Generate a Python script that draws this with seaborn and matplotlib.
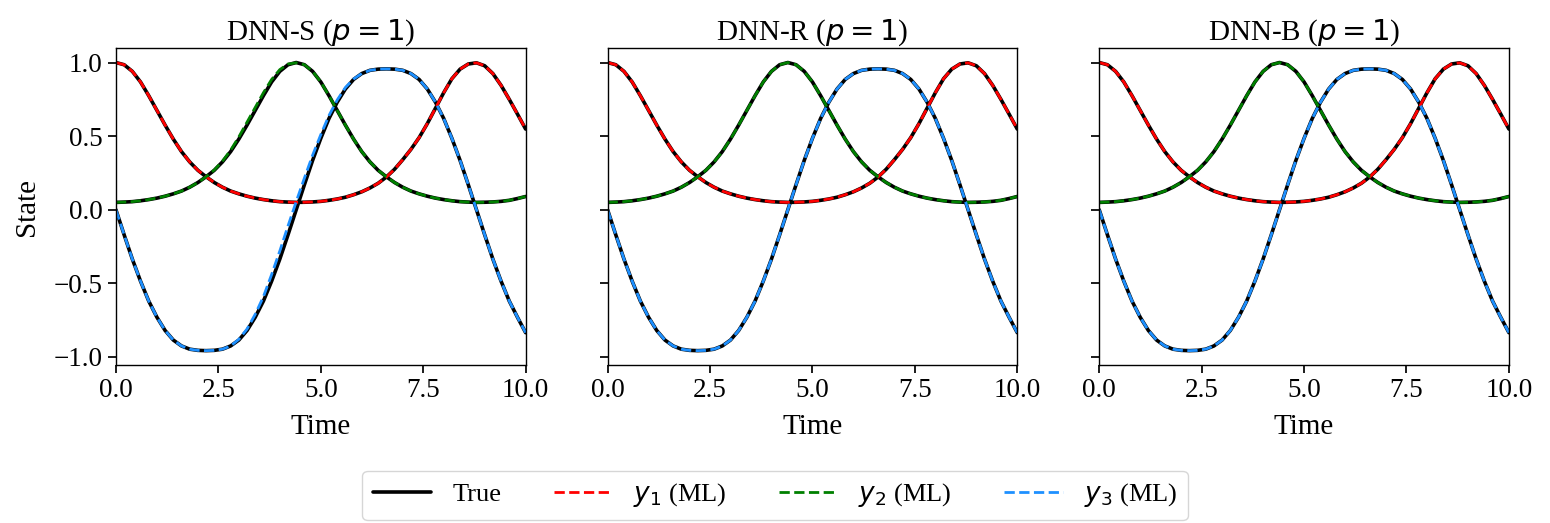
import numpy as np
import pandas as pd
import matplotlib
matplotlib.use('Agg')
import matplotlib.pyplot as plt
import seaborn as sns

# time grid (0.2 steps)
time = [0.0, 0.2, 0.4, 0.6, 0.8, 1.0, 1.2, 1.4, 1.6, 1.8,
        2.0, 2.2, 2.4, 2.6, 2.8, 3.0, 3.2, 3.4, 3.6, 3.8,
        4.0, 4.2, 4.4, 4.6, 4.8, 5.0, 5.2, 5.4, 5.6, 5.8,
        6.0, 6.2, 6.4, 6.6, 6.8, 7.0, 7.2, 7.4, 7.6, 7.8,
        8.0, 8.2, 8.4, 8.6, 8.8, 9.0, 9.2, 9.4, 9.6, 9.8, 10.0]

# reference solution
y1_true = [1.0, 0.985, 0.94, 0.868, 0.775, 0.675, 0.575, 0.48, 0.395, 0.325,
           0.268, 0.224, 0.185, 0.153, 0.127, 0.108, 0.092, 0.079, 0.069, 0.061,
           0.055, 0.052, 0.05, 0.051, 0.053, 0.057, 0.064, 0.073, 0.085, 0.102,
           0.122, 0.148, 0.18, 0.222, 0.275, 0.34, 0.41, 0.49, 0.585, 0.69,
           0.795, 0.89, 0.955, 0.99, 0.998, 0.978, 0.925, 0.845, 0.75, 0.65, 0.548]
y2_true = [0.05, 0.052, 0.055, 0.061, 0.069, 0.079, 0.092, 0.108, 0.127, 0.153,
           0.185, 0.224, 0.268, 0.325, 0.395, 0.48, 0.575, 0.675, 0.775, 0.868,
           0.94, 0.985, 1.0, 0.985, 0.94, 0.868, 0.775, 0.675, 0.575, 0.48,
           0.395, 0.325, 0.268, 0.224, 0.185, 0.153, 0.127, 0.108, 0.092, 0.079,
           0.069, 0.061, 0.055, 0.052, 0.05, 0.051, 0.053, 0.057, 0.064, 0.076, 0.09]
y3_true = [0.0, -0.17, -0.335, -0.485, -0.62, -0.73, -0.82, -0.885, -0.925, -0.947,
           -0.955, -0.957, -0.955, -0.947, -0.925, -0.885, -0.82, -0.73, -0.62, -0.485,
           -0.335, -0.17, 0.0, 0.17, 0.335, 0.485, 0.62, 0.73, 0.82, 0.885,
           0.925, 0.947, 0.955, 0.957, 0.955, 0.947, 0.925, 0.885, 0.82, 0.73,
           0.62, 0.485, 0.335, 0.17, 0.0, -0.17, -0.335, -0.485, -0.62, -0.73, -0.835]

# DNN-S prediction drifts a little around t = 3..5.5
y2_ml_s = [0.05, 0.052, 0.055, 0.061, 0.069, 0.079, 0.092, 0.108, 0.127, 0.153,
           0.185, 0.224, 0.27, 0.33, 0.405, 0.495, 0.595, 0.695, 0.795, 0.885,
           0.952, 0.99, 0.998, 0.985, 0.94, 0.868, 0.775, 0.675, 0.575, 0.48,
           0.395, 0.325, 0.268, 0.224, 0.185, 0.153, 0.127, 0.108, 0.092, 0.079,
           0.069, 0.061, 0.055, 0.052, 0.05, 0.051, 0.053, 0.057, 0.064, 0.076, 0.09]
y3_ml_s = [0.0, -0.17, -0.335, -0.485, -0.62, -0.73, -0.82, -0.885, -0.925, -0.947,
           -0.955, -0.957, -0.955, -0.947, -0.925, -0.88, -0.81, -0.71, -0.59, -0.44,
           -0.28, -0.11, 0.055, 0.215, 0.37, 0.51, 0.64, 0.745, 0.83, 0.888,
           0.925, 0.947, 0.955, 0.957, 0.955, 0.947, 0.925, 0.885, 0.82, 0.73,
           0.62, 0.485, 0.335, 0.17, 0.0, -0.17, -0.335, -0.485, -0.62, -0.73, -0.835]

titles = ['DNN-S ($p=1$)', 'DNN-R ($p=1$)', 'DNN-B ($p=1$)']
preds = [
    (y1_true, y2_ml_s, y3_ml_s),
    (y1_true, y2_true, y3_true),
    (y1_true, y2_true, y3_true),
]
ml_colors = ['red', 'green', 'dodgerblue']
ml_labels = ['$y_1$ (ML)', '$y_2$ (ML)', '$y_3$ (ML)']

sns.set_theme(style='ticks')
plt.rcParams['font.family'] = ['Liberation Serif', 'DejaVu Serif']
plt.rcParams['mathtext.fontset'] = 'dejavusans'
plt.rcParams['font.size'] = 20
plt.rcParams['axes.titlesize'] = 21
plt.rcParams['axes.labelsize'] = 21
plt.rcParams['xtick.labelsize'] = 19.5
plt.rcParams['ytick.labelsize'] = 19.5
plt.rcParams['legend.fontsize'] = 19
for key in ['text.color', 'axes.labelcolor', 'axes.edgecolor', 'xtick.color', 'ytick.color']:
    plt.rcParams[key] = 'black'
plt.rcParams['axes.linewidth'] = 1.0

fig, axes = plt.subplots(1, 3, figsize=(15.5, 5.23), dpi=100, sharey=True)
fig.subplots_adjust(left=0.0748, right=0.9735, top=0.908, bottom=0.302, wspace=0.2)

for ax, title, pred in zip(axes, titles, preds):
    for k, y in enumerate([y1_true, y2_true, y3_true]):
        sns.lineplot(x=time, y=y, color='black', lw=2.6, ax=ax,
                     label='True' if k == 0 else None)
    for y, c, lab in zip(pred, ml_colors, ml_labels):
        sns.lineplot(x=time, y=y, color=c, lw=2.0, linestyle='--', ax=ax, label=lab)
    if ax.get_legend() is not None:
        ax.get_legend().remove()
    ax.set_xlim(0, 10)
    ax.set_xticks([0, 2.5, 5, 7.5, 10])
    ax.set_yticks([-1.0, -0.5, 0.0, 0.5, 1.0])
    ax.set_title(title)
    ax.set_xlabel('Time', labelpad=8)
    ax.set_ylabel('')

axes[0].set_ylabel('State', labelpad=10)

handles, labels = axes[0].get_legend_handles_labels()
fig.legend(handles, labels, loc='center', bbox_to_anchor=(0.5, 0.053), ncol=4,
           frameon=True, edgecolor='#cccccc', handlelength=2.2)

fig.savefig('out.png', dpi=100)
